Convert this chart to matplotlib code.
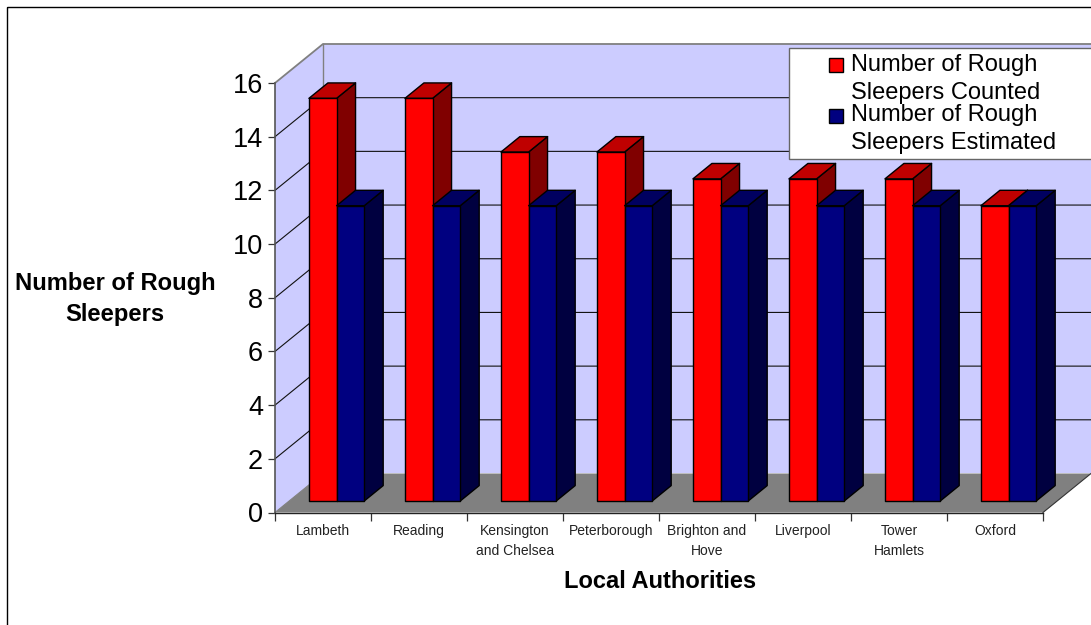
import matplotlib
matplotlib.use('Agg')
import matplotlib.pyplot as plt
from matplotlib.patches import Polygon, Rectangle
from matplotlib.transforms import Affine2D

plt.rcParams['font.family'] = ['Liberation Sans', 'DejaVu Sans']

authorities = ['Lambeth', 'Reading', 'Kensington\nand Chelsea', 'Peterborough',
               'Brighton and\nHove', 'Liverpool', 'Tower\nHamlets', 'Oxford']
counted = [15, 15, 13, 13, 12, 12, 12, 11]
estimated = [11, 11, 11, 11, 11, 11, 11, 11]
y_ticks = [0, 2, 4, 6, 8, 10, 12, 14, 16]

W, H = 1091, 625
fig = plt.figure(figsize=(W / 100, H / 100), dpi=100)

# front plane of the box: x in categories, y in value units
left, right, bottom, top = 275, 1043, 512.5, 83
ax = fig.add_axes([left / W, 1 - bottom / H, (right - left) / W, (bottom - top) / H])
ax.set_xlim(0, len(authorities))
ax.set_ylim(0, 16)
ax.patch.set_visible(False)

# oblique offset of the back of the box, in data units
depth_x = 48 / 96
depth_y = 39 / 26.84


def proj(x, y, d):
    return (x + d * depth_x, y + d * depth_y)


def face(points, color, z, edge='none', lw=0):
    ax.add_patch(Polygon(points, closed=True, facecolor=color, edgecolor=edge,
                         linewidth=lw, zorder=z, clip_on=False, joinstyle='round'))


n = len(authorities)
wall_edge = '#808080'

# walls and floor
face([proj(0, 0, 1), proj(n, 0, 1), proj(n, 16, 1), proj(0, 16, 1)], '#CCCCFF', 1)
face([proj(0, 0, 0), proj(0, 0, 1), proj(0, 16, 1), proj(0, 16, 0)], '#CCCCFF', 1)
face([proj(0, 0, 0), proj(n, 0, 0), proj(n, 0, 1), proj(0, 0, 1)], '#808080', 1.1)

# gridlines run along the side wall and across the back wall
for v in y_ticks[1:-1]:
    xs, ys = zip(proj(0, v, 0), proj(0, v, 1), proj(n, v, 1))
    ax.plot(xs, ys, color='#111111', lw=0.8, zorder=1.5, clip_on=False)

# outline of the box
xs, ys = zip(proj(0, 16, 0), proj(0, 16, 1), proj(n, 16, 1))
ax.plot(xs, ys, color=wall_edge, lw=1.3, zorder=1.6, clip_on=False)
xs, ys = zip(proj(0, 0, 1), proj(0, 16, 1))
ax.plot(xs, ys, color=wall_edge, lw=1.0, zorder=1.6, clip_on=False)
xs, ys = zip(proj(0, 0, 0), proj(0, 0, 1))
ax.plot(xs, ys, color=wall_edge, lw=0.8, zorder=1.6, clip_on=False)
xs, ys = zip(proj(n, 0, 0), proj(n, 0, 1))
ax.plot(xs, ys, color='#333333', lw=0.8, zorder=1.6, clip_on=False)

# bars sit in the middle part of the depth
bar_w = 0.288
gap = 0.206
d0, d1 = 0.295, 0.69


def box(x, value, front, topc, side, z):
    base = 0
    x2 = x + bar_w
    face([proj(x2, base, d0), proj(x2, base, d1), proj(x2, value, d1), proj(x2, value, d0)],
         side, z, 'black', 1.0)
    face([proj(x, value, d0), proj(x2, value, d0), proj(x2, value, d1), proj(x, value, d1)],
         topc, z, 'black', 1.0)
    face([proj(x, base, d0), proj(x2, base, d0), proj(x2, value, d0), proj(x, value, d0)],
         front, z, 'black', 1.0)


for i in range(n):
    box(i + gap, counted[i], '#FF0000', '#BF0000', '#800000', 3 + i * 0.1)
    box(i + gap + bar_w, estimated[i], '#000080', '#000060', '#000040', 3.05 + i * 0.1)

# axes
for s in ['top', 'right']:
    ax.spines[s].set_visible(False)
ax.spines['left'].set_color('#555555')
ax.spines['left'].set_linewidth(1.2)
ax.spines['bottom'].set_color('#222222')
ax.spines['bottom'].set_linewidth(1.0)

ax.set_yticks(y_ticks)
ax.tick_params(axis='y', labelsize=19.5, length=5, width=0.9, color='#333333', pad=3.5)
ax.set_xticks(range(n + 1))
ax.set_xticklabels([])
ax.tick_params(axis='x', which='major', length=5.8, width=0.9, color='#333333')
ax.set_xticks([i + 0.5 for i in range(n)], minor=True)
ax.set_xticklabels(authorities, minor=True, fontsize=10, color='#222222', linespacing=1.55)
ax.tick_params(axis='x', which='minor', length=0, pad=8.5)

ax.set_xlabel('Local Authorities', fontsize=17, fontweight='bold')
ax.xaxis.set_label_coords((660 - left) / (right - left), -(581 - bottom) / (bottom - top))
ax.xaxis.label.set_va('center')
ax.set_ylabel('Number of Rough\nSleepers', fontsize=17.1, fontweight='bold', rotation=0,
              ha='center', va='center', linespacing=1.48)
ax.yaxis.set_label_coords((115 - left) / (right - left), (bottom - 299) / (bottom - top))

# everything below is placed in pixels measured from the top left corner
px = Affine2D().scale(1, -1).translate(0, H)

# chart area border, cut off by the right and bottom edges
fig.add_artist(Rectangle((7, 7), W + 20, H + 20, transform=px, fill=False,
                         edgecolor='black', linewidth=1.0))

# legend
fig.add_artist(Rectangle((789, 47.5), W, 111.5, transform=px, facecolor='white',
                         edgecolor='#666666', linewidth=1.0, zorder=5))
legend_rows = [('#FF0000', 'Number of Rough', 'Sleepers Counted', 65, 93),
               ('#000080', 'Number of Rough', 'Sleepers Estimated', 115.5, 143)]
for color, line1, line2, y1, y2 in legend_rows:
    fig.add_artist(Rectangle((829, y1 - 7), 14, 14, transform=px, facecolor=color,
                             edgecolor='black', linewidth=1.0, zorder=6))
    fig.text(851, y1, line1, transform=px, fontsize=17, va='center', ha='left', zorder=7)
    fig.text(851, y2, line2, transform=px, fontsize=17, va='center', ha='left', zorder=7)

fig.savefig('out.png', dpi=100)
